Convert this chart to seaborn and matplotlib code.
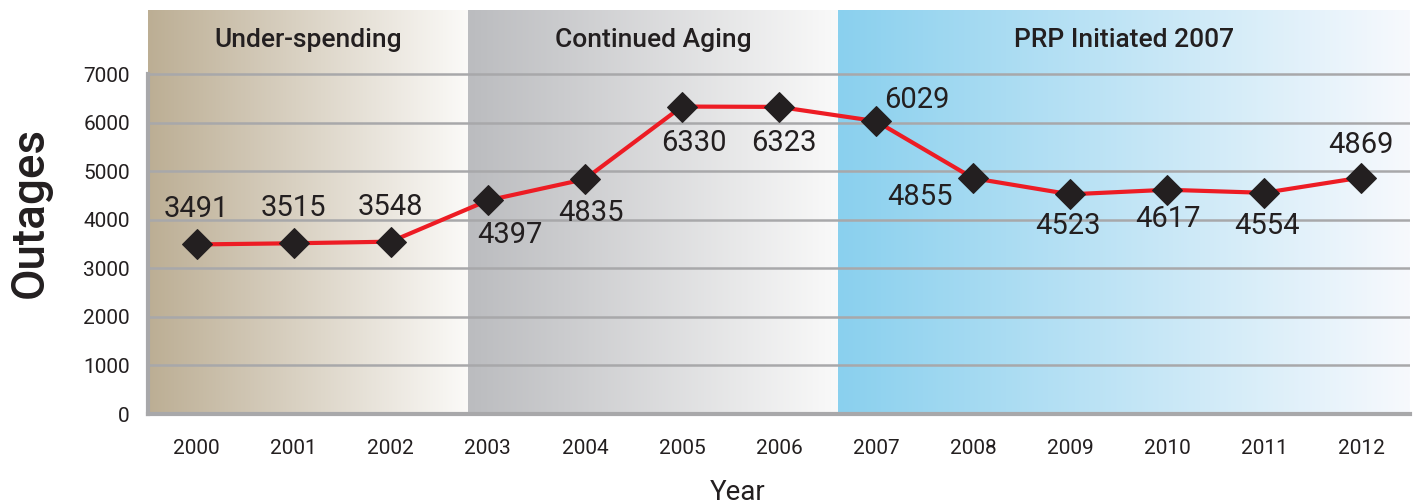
import numpy as np
import pandas as pd
import seaborn as sns
import matplotlib.pyplot as plt
from matplotlib.colors import LinearSegmentedColormap

years = ['2000', '2001', '2002', '2003', '2004', '2005', '2006',
         '2007', '2008', '2009', '2010', '2011', '2012']
outages = [3491, 3515, 3548, 4397, 4835, 6330, 6323,
           6029, 4855, 4523, 4617, 4554, 4869]

phase_names = ['Under-spending', 'Continued Aging', 'PRP Initiated 2007']
phase_edges = [-0.5, 2.80, 6.61, 12.5]
phase_colors = [('#bcae94', '#fbfaf8'), ('#bbbcbf', '#f9f9f9'), ('#8ad0ee', '#f7f9fd')]

# label offsets (pixels) from each marker
label_offsets = [(0, 35), (0, 35), (0, 35), (22, -35), (6, -34), (12, -36), (5, -36),
                 (41, 21), (-53, -19), (-2, -32), (1, -29), (3, -33), (-1, 33)]

df = pd.DataFrame({'Year': years, 'Outages': outages})

sns.set_style('white')
plt.rcParams['font.family'] = ['Roboto', 'DejaVu Sans']

fig = plt.figure(figsize=(14.14, 5.04), dpi=100)
ax = fig.add_axes([148 / 1414, 90 / 504, 1262 / 1414, 404 / 504])

ymax = 8318
grad = np.linspace(0, 1, 256).reshape(1, -1)
for name, (x0, x1), (c0, c1) in zip(phase_names, zip(phase_edges[:-1], phase_edges[1:]), phase_colors):
    cmap = LinearSegmentedColormap.from_list(name, [c0, c1])
    ax.imshow(grad, cmap=cmap, extent=(x0, x1, 0, ymax), aspect='auto', zorder=0)
    ax.text((x0 + x1) / 2, 7700, name, ha='center', va='center', fontsize=19,
            fontweight='medium', color='#231f20', zorder=5)

for v in range(1000, 8000, 1000):
    ax.axhline(v, color='#a8a8aa', lw=1.8, zorder=1)

sns.lineplot(data=df, x='Year', y='Outages', ax=ax, color='#ed1c24', lw=3,
             marker='D', markersize=15, markerfacecolor='#231f20',
             markeredgecolor='#231f20', zorder=3)

for i, (v, (dx, dy)) in enumerate(zip(outages, label_offsets)):
    ax.annotate(str(v), (i, v), xytext=(dx, dy), textcoords='offset pixels',
                ha='center', va='center', fontsize=21, color='#231f20', zorder=6)

ax.set_xlim(-0.5, 12.5)
ax.set_ylim(0, ymax)
ax.set_yticks(range(0, 8000, 1000))
ax.set_xticks(range(len(years)))
ax.set_xticklabels(years)
ax.set_xticks(np.arange(-0.5, 13, 1), minor=True)
ax.tick_params(axis='x', which='major', length=0, pad=18, labelsize=15, labelcolor='#231f20')
ax.tick_params(axis='x', which='minor', length=7, width=1.5, color='#a8a8aa')
ax.tick_params(axis='y', length=7, width=1.8, color='#a8a8aa', pad=6, labelsize=15,
               labelcolor='#231f20')

for s in ['top', 'right']:
    ax.spines[s].set_visible(False)
ax.spines['left'].set_bounds(0, 7000)
ax.spines['left'].set_color('#a8a8aa')
ax.spines['left'].set_linewidth(3)
ax.spines['bottom'].set_color('#a8a8aa')
ax.spines['bottom'].set_linewidth(3)
ax.spines['left'].set_zorder(4)
ax.spines['bottom'].set_zorder(4)

ax.set_ylabel('Outages', fontsize=33, fontweight='medium', color='#231f20')
ax.yaxis.set_label_coords(-0.076, 0.5)
ax.set_xlabel('Year', fontsize=20, color='#231f20')
ax.xaxis.set_label_coords(0.467, -0.16)

fig.savefig('out.png', dpi=100)
